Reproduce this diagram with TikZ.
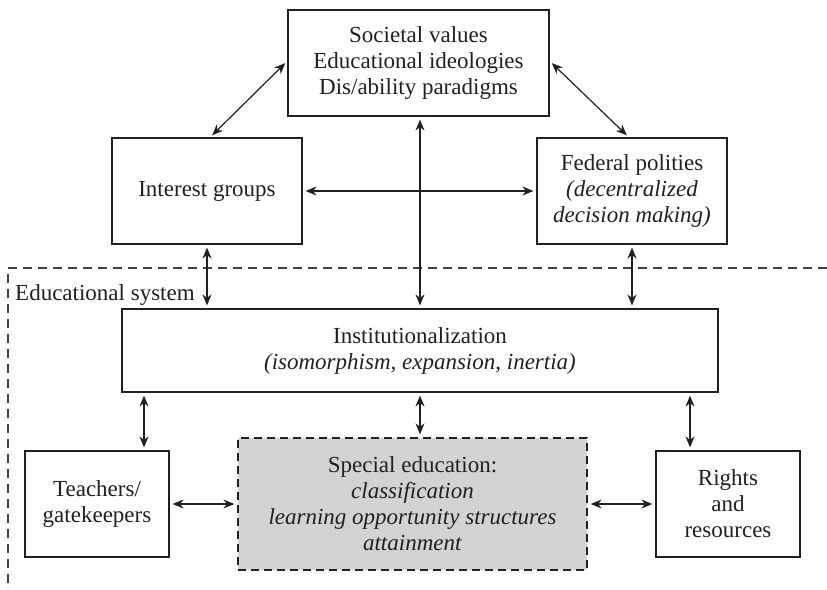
\documentclass[tikz,border=0pt]{standalone}
\usepackage{fontspec}
\setmainfont{Liberation Serif}
\usetikzlibrary{arrows.meta}
\definecolor{ink}{HTML}{231F20}
\definecolor{shade}{HTML}{D3D3D4}
\begin{document}
\begin{tikzpicture}[x=1pt,y=-1pt,
  every node/.style={font=\fontsize{23}{26}\selectfont, text=ink, align=center, inner sep=0pt},
  box/.style={draw=ink, line width=1.2pt, rectangle},
  dbox/.style={draw=ink, line width=1.3pt, rectangle, fill=shade, dash pattern=on 8pt off 5pt},
  link/.style={draw=ink, line width=1.2pt, {Stealth[length=11pt,width=9pt]}-{Stealth[length=11pt,width=9pt]}, shorten <=3pt, shorten >=3pt},
  border/.style={draw=ink!85, line width=1.3pt, dash pattern=on 9pt off 6pt}
]
\useasboundingbox (0,0) rectangle (827,589);

% educational system boundary
\draw[border] (827,268) -- (8,268) -- (8,589);
\node[anchor=base west] (edsys) at (15,300) {Educational system};

% outer context
\node[box, minimum width=261pt, minimum height=106pt] (values) at (418.5,63)
  {Societal values\\Educational ideologies\\Dis/ability paradigms};
\node[box, minimum width=190pt, minimum height=106pt] (interest) at (207,191)
  {Interest groups};
\node[box, minimum width=190pt, minimum height=106pt] (federal) at (632,191)
  {Federal polities\\\textit{(decentralized}\\\textit{decision making)}};

% inside the educational system
\node[box, minimum width=596pt, minimum height=83pt] (inst) at (420,350.5)
  {Institutionalization\\\textit{(isomorphism, expansion, inertia)}};
\node[box, minimum width=144pt, minimum height=106pt] (teachers) at (97,504)
  {Teachers/\\gatekeepers};
\node[dbox, minimum width=349pt, minimum height=132pt] (special) at (412.5,504)
  {Special education:\\\textit{classification}\\\textit{learning opportunity structures}\\\textit{attainment}};
\node[box, minimum width=144pt, minimum height=106pt] (rights) at (728,504)
  {Rights\\and\\resources};

% connectors
\draw[link] ([yshift=2pt]values.west) -- ([xshift=3pt]interest.north);
\draw[link] ([yshift=2pt]values.east) -- ([xshift=-3pt]federal.north);
\draw[link] ([xshift=1.5pt]values.south) -- ([xshift=1.5pt]values.south |- inst.north);
\draw[link] (interest.east) -- (federal.west);
\draw[link] (interest.south) -- (interest.south |- inst.north);
\draw[link] (federal.south) -- (federal.south |- inst.north);
\draw[link] ([xshift=47pt]teachers.north) -- ([xshift=47pt]teachers.north |- inst.south);
\draw[link] ([xshift=7.5pt]special.north) -- ([xshift=7.5pt]special.north |- inst.south);
\draw[link] ([xshift=-38pt]rights.north) -- ([xshift=-38pt]rights.north |- inst.south);
\draw[link] (teachers.east) -- (special.west);
\draw[link] (special.east) -- (rights.west);
\end{tikzpicture}
\end{document}
